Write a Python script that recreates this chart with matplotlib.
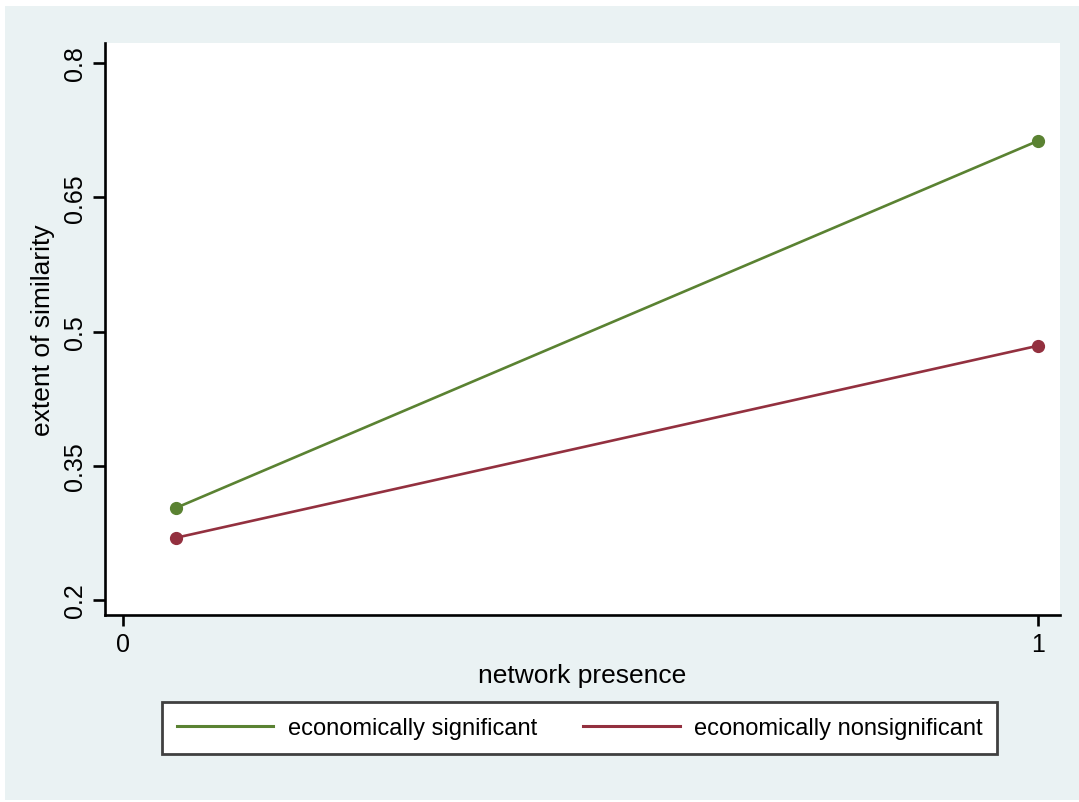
import matplotlib
matplotlib.use("Agg")
import matplotlib.pyplot as plt
from matplotlib.patches import Rectangle
from matplotlib.lines import Line2D

# Data
network_presence = [0.058, 1.0]
sig_similarity = [0.303, 0.713]
nonsig_similarity = [0.2696, 0.4841]
series_labels = ["economically significant", "economically nonsignificant"]
y_ticks = [0.2, 0.35, 0.5, 0.65, 0.8]
y_ticklabels = ["0.2", "0.35", "0.5", "0.65", "0.8"]
x_ticks = [0, 1]
x_ticklabels = ["0", "1"]

plt.rcParams['font.family'] = ['Liberation Sans', 'DejaVu Sans']

W, H = 1079, 803
fig = plt.figure(figsize=(W / 100, H / 100), dpi=100, facecolor="white")

# Light blue-gray graph region behind everything
fig.patches.append(Rectangle((5 / W, 1 - 801 / H), (W - 5) / W, (801 - 7) / H,
                             transform=fig.transFigure, facecolor="#EAF2F3",
                             edgecolor="none", zorder=-10))

left, right, top, bottom = 105, 1060, 44, 616
ax = fig.add_axes([left / W, 1 - bottom / H, (right - left) / W, (bottom - top) / H])
ax.set_zorder(1)
ax.set_facecolor("white")

green = "#5A8232"
maroon = "#93303F"
ax.plot(network_presence, sig_similarity, color=green, lw=1.9, marker="o",
        ms=8.5, solid_capstyle="butt", clip_on=False)
ax.plot(network_presence, nonsig_similarity, color=maroon, lw=1.9, marker="o",
        ms=8.5, solid_capstyle="butt", clip_on=False)

ax.set_xlim(-0.0197, 1.024)
ax.set_ylim(0.1833, 0.8223)

for s in ["top", "right"]:
    ax.spines[s].set_visible(False)
for s in ["left", "bottom"]:
    ax.spines[s].set_linewidth(1.9)
    ax.spines[s].set_color("black")

ax.set_yticks(y_ticks)
ax.set_yticklabels(y_ticklabels, rotation=90, va="center")
ax.set_xticks(x_ticks)
ax.set_xticklabels(x_ticklabels)
ax.tick_params(axis="y", length=9, width=1.9, labelsize=18, pad=4)
ax.tick_params(axis="x", length=8, width=1.9, labelsize=18, pad=4)

ax.set_xlabel("network presence", fontsize=19, labelpad=5)
ax.set_ylabel("extent of similarity", fontsize=19, labelpad=6)

leg_handles = [Line2D([], [], color=green, lw=2.2), Line2D([], [], color=maroon, lw=2.2)]
leg = fig.legend(leg_handles, series_labels, loc="center",
                 bbox_to_anchor=(579.5 / W, 1 - 729 / H), ncol=2, fontsize=17,
                 frameon=True, fancybox=False, handlelength=4.1,
                 handletextpad=0.6, columnspacing=1.95, borderpad=0.62)
frame = leg.get_frame()
frame.set_edgecolor("#404040")
frame.set_linewidth(2)
frame.set_facecolor("white")
frame.set_alpha(1)

fig.savefig("out.png", dpi=100, facecolor="white")
